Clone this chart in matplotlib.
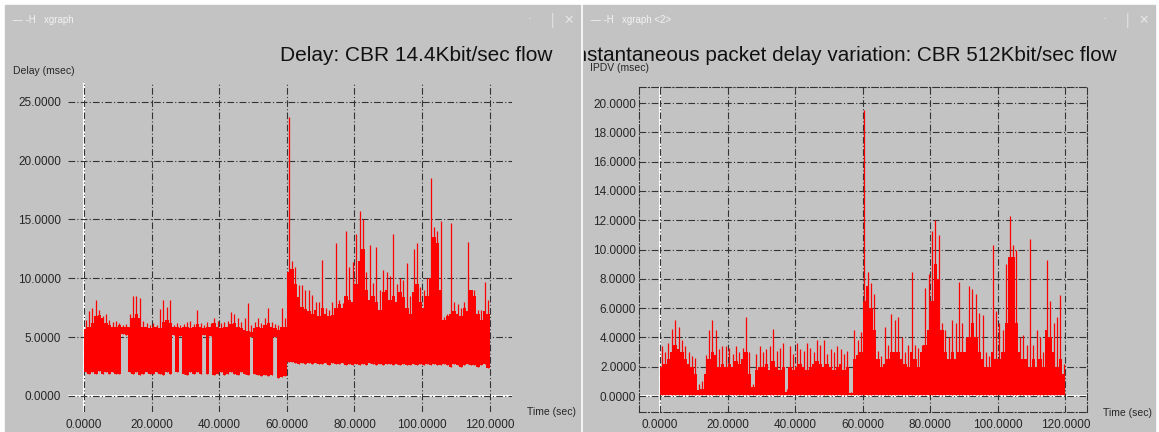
import numpy as np
import matplotlib
matplotlib.use("Agg")
import matplotlib.pyplot as plt
from matplotlib.patches import Rectangle
from matplotlib.transforms import Bbox, TransformedBbox

##-----------------------------
## data (read off the two xgraph windows, one value per second)
##-----------------------------
seconds = np.arange(120)

# Delay: CBR 14.4Kbit/sec flow
delay_low = [2.0, 1.9, 2.0, 1.9, 2.1, 1.9, 2.0, 1.9, 2.0, 1.9,
             1.9, 5.3, 5.2, 2.0, 1.9, 2.0, 1.8, 1.9, 2.0, 1.9,
             1.9, 2.0, 1.9, 1.8, 2.0, 1.9, 5.2, 2.0, 5.1, 1.9,
             1.8, 2.0, 1.9, 2.0, 1.9, 5.2, 1.9, 5.1, 1.8, 1.9,
             2.0, 1.8, 1.9, 2.0, 1.9, 1.8, 2.0, 1.9, 1.8, 5.0,
             1.9, 1.8, 1.7, 1.8, 1.7, 1.8, 5.0, 1.5, 1.6, 1.7,
             2.9, 2.9, 2.8, 2.7, 2.8, 2.7, 2.8, 2.7, 2.8, 2.7,
             2.7, 2.8, 2.6, 2.8, 2.7, 2.7, 2.8, 2.6, 2.7, 2.6,
             2.7, 2.6, 2.7, 2.6, 2.8, 2.7, 2.6, 2.7, 2.6, 2.7,
             2.7, 2.6, 2.7, 2.6, 2.7, 2.6, 2.6, 2.7, 2.6, 2.7,
             2.6, 2.7, 2.6, 2.7, 2.6, 2.6, 2.7, 2.6, 2.5, 2.7,
             2.6, 2.5, 2.6, 2.7, 2.6, 2.6, 2.5, 2.6, 2.7, 2.4]
delay_top = [5.7, 5.9, 6.2, 6.8, 6.9, 6.6, 6.2, 6.0, 5.9, 5.9,
             6.0, 5.9, 5.9, 5.9, 6.6, 7.0, 6.6, 5.9, 5.9, 5.8,
             5.9, 5.9, 5.8, 6.3, 6.5, 6.2, 5.9, 5.9, 5.8, 5.9,
             5.9, 5.8, 5.9, 6.1, 5.9, 5.8, 5.9, 5.9, 6.2, 5.9,
             5.8, 5.9, 5.9, 6.1, 6.2, 5.9, 5.8, 5.6, 5.5, 5.4,
             5.8, 5.9, 5.8, 6.0, 6.2, 5.9, 5.8, 5.6, 5.9, 5.9,
             10.5, 10.8, 9.5, 8.4, 7.6, 7.4, 7.2, 7.0, 7.3, 6.8,
             7.5, 7.0, 6.8, 6.9, 7.5, 7.8, 7.5, 8.5, 8.2, 8.0,
             9.5, 11.5, 12.5, 9.0, 8.2, 8.5, 8.0, 7.3, 8.8, 9.0,
             8.2, 8.5, 8.0, 8.8, 8.4, 7.5, 7.0, 8.8, 9.5, 8.0,
             7.5, 8.5, 10.0, 13.5, 13.0, 9.0, 6.5, 6.8, 7.0, 7.2,
             7.0, 6.8, 7.5, 7.2, 9.0, 8.5, 7.0, 6.5, 7.2, 7.0]
delay_peak = [6.5, 7.2, 7.5, 8.2, 7.3, 6.8, 7.0, 6.5, 6.3, 6.4,
              6.2, 6.0, 6.1, 7.0, 8.5, 8.5, 8.3, 6.4, 6.2, 6.0,
              6.2, 6.0, 7.4, 8.2, 7.6, 8.2, 6.0, 6.2, 6.0, 6.1,
              6.3, 6.4, 6.1, 7.3, 6.2, 6.0, 6.3, 6.2, 6.6, 6.4,
              6.2, 6.3, 6.4, 7.1, 7.0, 6.6, 6.3, 6.6, 7.9, 6.0,
              6.3, 6.6, 6.2, 6.6, 7.5, 6.3, 6.1, 6.0, 7.5, 6.6,
              23.7, 11.5, 11.0, 9.4, 9.4, 9.0, 9.0, 8.6, 8.0, 8.0,
              11.6, 7.5, 7.3, 8.0, 13.0, 8.2, 7.9, 14.0, 11.0, 11.4,
              13.8, 15.7, 15.0, 10.5, 12.8, 9.6, 12.7, 9.0, 10.7, 10.5,
              10.2, 13.8, 9.5, 10.0, 9.9, 11.3, 8.5, 12.5, 13.0, 9.3,
              9.0, 10.0, 18.5, 14.4, 14.0, 14.9, 6.7, 7.0, 14.7, 8.0,
              7.8, 7.5, 8.0, 13.1, 9.0, 9.0, 7.3, 7.3, 9.7, 8.2]

# IPDV: CBR 512Kbit/sec flow (bottom is ~0 everywhere)
ipdv_low = [0.05] * 120
ipdv_top = [2.0, 2.2, 2.5, 3.0, 3.5, 3.2, 3.0, 2.5, 2.2, 2.0,
            1.5, 0.4, 0.5, 1.5, 2.5, 3.0, 2.8, 2.0, 2.2, 2.0,
            2.2, 2.0, 2.4, 2.2, 2.5, 3.0, 1.5, 0.6, 1.8, 2.0,
            2.0, 2.2, 1.8, 2.4, 2.0, 1.8, 2.0, 0.3, 2.0, 1.8,
            2.0, 2.2, 2.0, 1.8, 2.0, 2.2, 2.4, 2.2, 2.0, 2.2,
            2.0, 1.8, 2.0, 2.2, 1.8, 2.0, 0.2, 2.5, 2.8, 3.0,
            6.5, 7.5, 6.0, 4.5, 2.5, 2.0, 2.2, 2.5, 3.0, 3.0,
            3.0, 2.5, 2.2, 2.0, 3.0, 2.5, 2.0, 3.0, 3.5, 4.5,
            6.5, 9.0, 8.0, 4.5, 3.0, 2.5, 3.0, 2.5, 3.0, 3.0,
            3.0, 4.0, 5.0, 4.0, 3.0, 2.5, 2.0, 2.0, 3.0, 2.5,
            2.5, 3.0, 5.0, 9.5, 9.5, 5.0, 3.0, 2.5, 2.5, 2.0,
            2.5, 2.0, 2.5, 2.0, 4.5, 4.0, 3.0, 2.0, 2.5, 1.5]
ipdv_peak = [3.4, 3.0, 3.6, 4.6, 5.2, 4.7, 3.8, 3.4, 3.0, 2.7,
             2.6, 0.8, 1.0, 2.8, 4.5, 5.2, 4.5, 3.2, 3.4, 3.4,
             3.3, 2.9, 3.4, 3.0, 3.3, 5.4, 3.0, 0.8, 2.9, 3.4,
             3.0, 3.2, 3.4, 4.6, 3.1, 3.3, 3.6, 0.5, 3.4, 2.9,
             3.6, 3.2, 3.1, 3.6, 3.3, 3.0, 3.8, 3.5, 3.8, 2.9,
             3.2, 3.0, 3.4, 3.2, 2.9, 3.1, 0.3, 4.5, 3.8, 4.4,
             19.5, 8.5, 7.7, 7.0, 3.1, 2.7, 4.7, 3.5, 5.6, 5.2,
             5.4, 4.0, 3.0, 3.5, 8.5, 3.5, 3.3, 3.5, 7.4, 8.3,
             11.3, 12.0, 11.0, 5.0, 4.5, 4.0, 5.2, 5.0, 7.8, 5.0,
             4.0, 7.5, 7.3, 7.0, 5.7, 5.5, 3.0, 2.7, 10.3, 5.8,
             5.0, 4.5, 9.0, 12.3, 10.3, 10.0, 4.0, 4.2, 3.5, 10.7,
             3.5, 4.5, 4.0, 3.0, 9.3, 6.5, 5.0, 5.4, 6.9, 2.2]

x_ticks = [0, 20, 40, 60, 80, 100, 120]
delay_ticks = [0, 5, 10, 15, 20, 25]
ipdv_ticks = [0, 2, 4, 6, 8, 10, 12, 14, 16, 18, 20]

##-----------------------------
## figure / window chrome
##-----------------------------
W, H = 1159, 432
GRAY = "#c3c3c3"
GRID = "#333333"
TXT = "#262626"
FONT = "Liberation Sans"

fig = plt.figure(figsize=(W / 100, H / 100), dpi=100, facecolor="white")


def fx(px):
    return px / W


def fy(py):
    return 1 - py / H


windows = [(5, 580, "xgraph"), (583, 1155, "xgraph <2>")]
for x0, x1, name in windows:
    fig.patches.append(Rectangle((fx(x0), 0), fx(x1) - fx(x0), fy(5),
                                 transform=fig.transFigure, color=GRAY, zorder=-5))
    fig.text(fx(x0 + 8), fy(20), "\u2014 -H   " + name, fontsize=7, color="#f2f2f2",
             family=FONT, va="center")
    for dx, glyph in [(-48, "\u00b7"), (-24, "\u2502"), (-6, "\u2715")]:
        fig.text(fx(x1 + dx), fy(20), glyph, fontsize=9, color="#e6e6e6",
                 family="DejaVu Sans", va="center", ha="right")

##-----------------------------
## plot panels
##-----------------------------
def panel(rect_px, xlim, ylim, yticks, low, top, peak, framed):
    l, r, t, b = rect_px
    ax = fig.add_axes([fx(l), fy(b), fx(r) - fx(l), fy(t) - fy(b)], zorder=2)
    ax.set_facecolor("none")
    ax.set_xlim(*xlim)
    ax.set_ylim(*ylim)
    ax.set_xticks(x_ticks)
    ax.set_yticks(yticks)
    ax.set_xticklabels(["%.4f" % v for v in x_ticks])
    ax.set_yticklabels(["%.4f" % v for v in yticks])
    ax.grid(True, color=GRID, lw=0.8, linestyle=(0, (6, 2, 1, 2)), zorder=1)
    ax.axhline(0, color="white", lw=1.5, zorder=1.5)
    ax.axvline(0, color="white", lw=1.5, zorder=1.5)
    low = np.array(low)
    ax.bar(seconds, np.array(top) - low, bottom=low, width=1.0, align="edge",
           color="#ff0000", linewidth=0, zorder=2)
    ax.vlines(seconds + 0.5, low, peak, color="#ff0000", lw=0.9, zorder=2)
    for sp in ax.spines.values():
        sp.set_visible(framed)
        sp.set_color(GRID)
        sp.set_linewidth(0.8)
        sp.set_linestyle((0, (6, 2, 1, 2)))
    ax.tick_params(length=0, labelsize=8.5, colors=TXT, pad=5)
    ax.tick_params(axis="y", pad=2 if framed else 5)
    for lab in ax.get_xticklabels() + ax.get_yticklabels():
        lab.set_family(FONT)
    return ax


panel((68, 512, 83, 412), (-4.73, 126.6), (-1.36, 26.6), delay_ticks,
      delay_low, delay_top, delay_peak, False)
panel((639, 1087, 87, 412), (-6.2, 126.4), (-1.09, 21.1), ipdv_ticks,
      ipdv_low, ipdv_top, ipdv_peak, True)

##-----------------------------
## labels and titles
##-----------------------------
fig.text(fx(13), fy(71), "Delay (msec)", fontsize=7.5, color=TXT, family=FONT, va="center")
fig.text(fx(590), fy(68), "IPDV (msec)", fontsize=7.5, color=TXT, family=FONT, va="center")
fig.text(fx(527), fy(412), "Time (sec)", fontsize=7.5, color=TXT, family=FONT, va="center")
fig.text(fx(1103), fy(413), "Time (sec)", fontsize=7.5, color=TXT, family=FONT, va="center")

fig.text(fx(553), fy(61), "Delay: CBR 14.4Kbit/sec flow", fontsize=15, color="#111111",
         family=FONT, ha="right", va="baseline")
t2 = fig.text(fx(1117), fy(61), "Instantaneous packet delay variation: CBR 512Kbit/sec flow",
              fontsize=14.9, color="#111111", family=FONT, ha="right", va="baseline")
t2.set_clip_box(TransformedBbox(Bbox([[fx(584), 0], [fx(1155), 1]]), fig.transFigure))
t2.set_clip_on(True)

plt.savefig("out.png", dpi=100, facecolor="white")
